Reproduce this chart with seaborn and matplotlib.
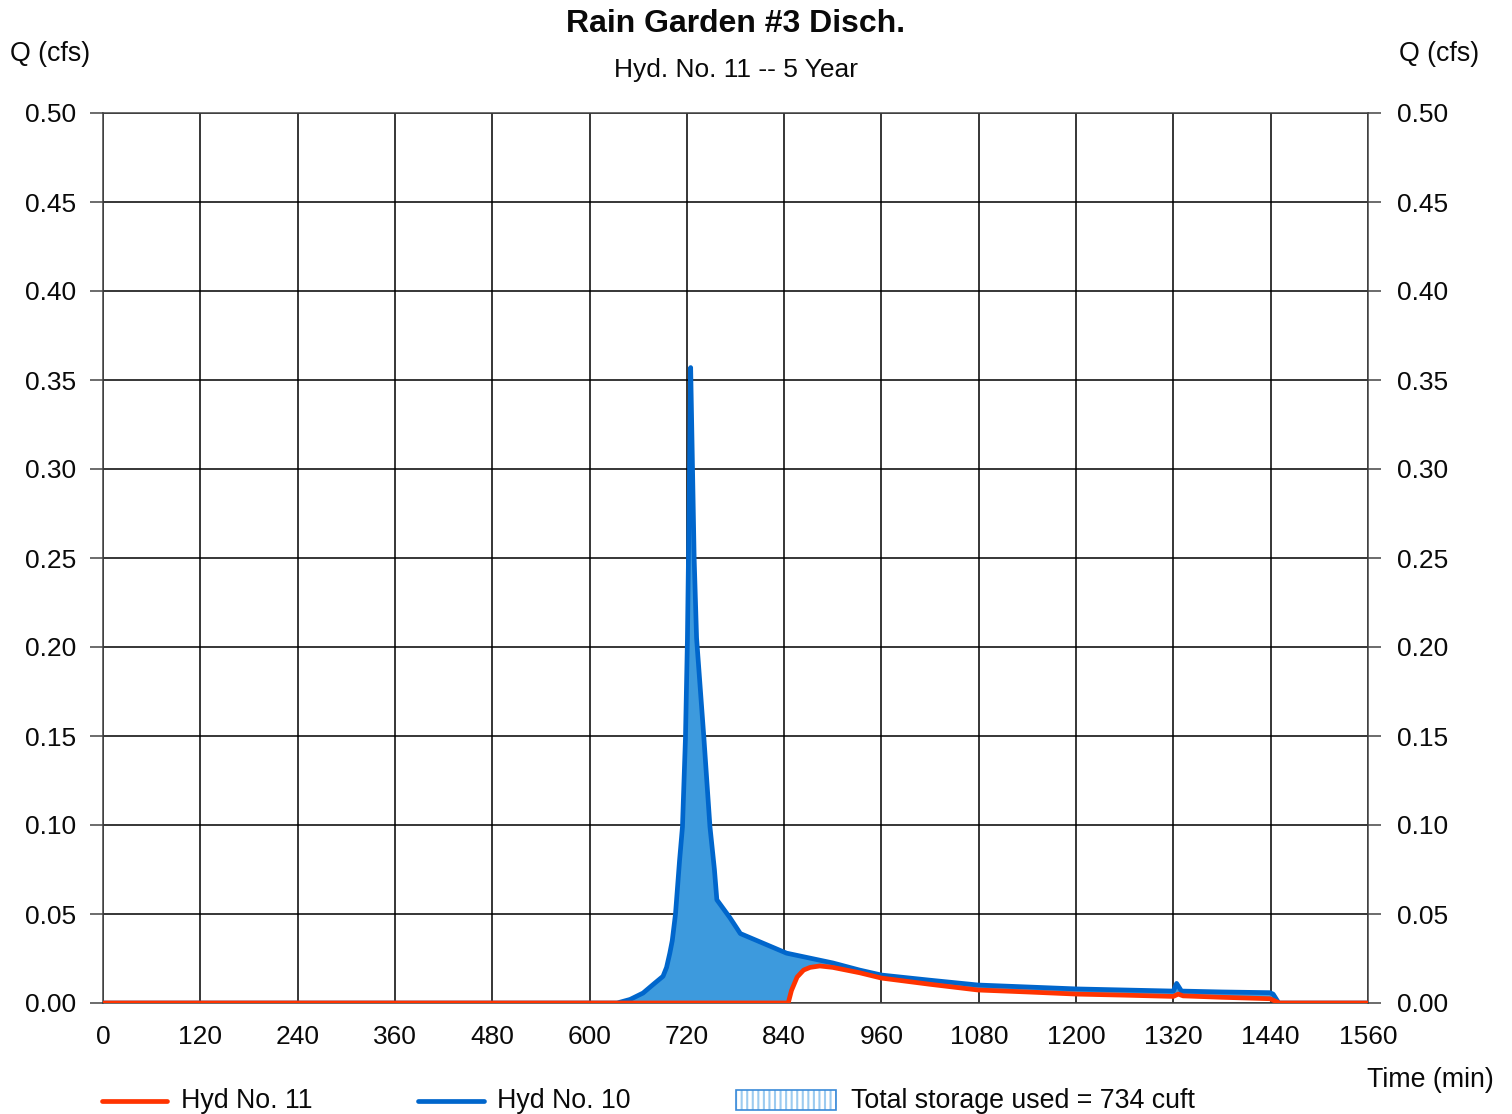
import numpy as np
import pandas as pd
import seaborn as sns
import matplotlib
matplotlib.use("Agg")
import matplotlib.pyplot as plt
from matplotlib.lines import Line2D
from matplotlib.patches import Rectangle

# Inflow hydrograph (Hyd No. 10): time (min), discharge (cfs)
inflow_t = [0, 634, 650, 666, 680, 690.6, 695, 699, 702, 706, 711, 714.6, 718.3,
            720.7, 722, 723.3, 724.7, 727, 729, 732, 741, 748.5, 754, 757,
            773, 786, 843, 900, 933, 960, 1020, 1079, 1140, 1201, 1260, 1320,
            1324, 1330, 1380, 1439, 1443, 1450, 1560]
inflow_q = [0.0, 0.0, 0.002, 0.0056, 0.011, 0.0150, 0.020, 0.028, 0.035, 0.050,
            0.080, 0.099, 0.149, 0.204, 0.250, 0.300, 0.357, 0.300, 0.250,
            0.205, 0.149, 0.099, 0.075, 0.058, 0.048, 0.039, 0.028, 0.0225,
            0.0185, 0.0157, 0.0128, 0.0101, 0.0090, 0.0079, 0.0073, 0.0067,
            0.0110, 0.0067, 0.0062, 0.0058, 0.0050, 0.0, 0.0]

# Outflow hydrograph (Hyd No. 11): time (min), discharge (cfs)
outflow_t = [0, 845, 849, 856, 864, 872, 884, 900, 933, 960, 1020, 1079, 1140,
             1201, 1260, 1320, 1326, 1332, 1380, 1439, 1451, 1560]
outflow_q = [0.0, 0.0, 0.007, 0.0146, 0.0185, 0.0200, 0.0208, 0.0200, 0.0170,
             0.0140, 0.0105, 0.0073, 0.0062, 0.0050, 0.0044, 0.0037, 0.0050,
             0.0040, 0.0032, 0.0024, 0.0, 0.0]

x_ticks = list(range(0, 1561, 120))
y_ticks = [0.00, 0.05, 0.10, 0.15, 0.20, 0.25, 0.30, 0.35, 0.40, 0.45, 0.50]
storage_cuft = 734

inflow = pd.DataFrame({"t": inflow_t, "q": inflow_q})
outflow = pd.DataFrame({"t": outflow_t, "q": outflow_q})

sns.set_theme(style="white")
plt.rcParams["font.family"] = ["Liberation Sans", "DejaVu Sans"]

W, H, DPI = 1512, 1114, 100
fig = plt.figure(figsize=(W / DPI, H / DPI), dpi=DPI)
ax = fig.add_axes([103 / W, 1 - 1003 / H, (1368 - 103) / W, (1003 - 113) / H])

red = "#ff3300"
blue = "#0066cc"
fill = "#3d9add"
ink = "#0a0a0a"
lw = 3.4

# Storage volume: area between inflow and outflow
grid_t = np.union1d(inflow_t, outflow_t)
q_in = np.interp(grid_t, inflow_t, inflow_q)
q_out = np.interp(grid_t, outflow_t, outflow_q)
ax.fill_between(grid_t, q_out, q_in, where=q_in >= q_out, interpolate=True,
                color=fill, linewidth=0, zorder=3)

sns.lineplot(data=inflow, x="t", y="q", ax=ax, color=blue, linewidth=lw,
             zorder=4, sort=False, estimator=None)
sns.lineplot(data=outflow, x="t", y="q", ax=ax, color=red, linewidth=lw,
             zorder=5, sort=False, estimator=None)

ax.set_xlim(0, 1560)
ax.set_ylim(0, 0.5)
ax.set_xticks(x_ticks)
ax.set_yticks(y_ticks)
ax.set_xticklabels([str(v) for v in x_ticks])
ax.set_yticklabels([f"{v:.2f}" for v in y_ticks])
ax.set_xlabel("")
ax.set_ylabel("")

ax.grid(True, color="#000000", linewidth=1.1, zorder=1)
ax.set_axisbelow(True)
for side, sp in ax.spines.items():
    sp.set_color("#444444")
    sp.set_linewidth(1.1)

ax.tick_params(axis="y", left=True, right=True, labelleft=True, labelright=True,
               length=9.4, width=1.1, color="#444444", labelsize=19,
               labelcolor=ink)
ax.tick_params(axis="y", which="major", pad=10)
for lab in ax.get_yticklabels():
    pass
ax.yaxis.set_tick_params(which="major", pad=10)
ax.tick_params(axis="x", length=0, labelsize=19, pad=15.5, labelcolor=ink)
# right-hand labels sit a touch further from the tick
for t in ax.yaxis.get_major_ticks():
    t.label2.set_x(1.0)
    t.set_pad(10)
import matplotlib.transforms as mtransforms
offset = mtransforms.ScaledTranslation(2 / DPI, 0, fig.dpi_scale_trans)
for lab in ax.yaxis.get_ticklabels(which="major"):
    pass
for t in ax.yaxis.get_major_ticks():
    t.label2.set_transform(t.label2.get_transform() + offset)

# Titles and axis captions
fig.text(736 / W, 1 - 24 / H, "Rain Garden #3 Disch.", ha="center", va="center",
         fontsize=23, fontweight="bold", color=ink)
fig.text(736 / W, 1 - 70 / H, "Hyd. No. 11 -- 5 Year", ha="center", va="center",
         fontsize=19, color=ink)
fig.text(10 / W, 1 - 54 / H, "Q (cfs)", ha="left", va="center", fontsize=19.3,
         color=ink)
fig.text(1479 / W, 1 - 54 / H, "Q (cfs)", ha="right", va="center", fontsize=19.3,
         color=ink)
fig.text(1494 / W, 1 - 1080 / H, "Time (min)", ha="right", va="center",
         fontsize=19.3, color=ink)

# Legend row
ly = 1 - 1101 / H
fig.add_artist(Line2D([102 / W, 167 / W], [ly, ly], color=red, linewidth=lw,
                      transform=fig.transFigure))
fig.text(181 / W, ly, "Hyd No. 11", ha="left", va="center", fontsize=19.3,
         color=ink)
fig.add_artist(Line2D([418 / W, 484 / W], [ly, ly], color=blue, linewidth=lw,
                      transform=fig.transFigure))
fig.text(497 / W, ly, "Hyd No. 10", ha="left", va="center", fontsize=19.3,
         color=ink)
plt.rcParams["hatch.color"] = "#9ccbf0"
plt.rcParams["hatch.linewidth"] = 1.5
fig.add_artist(Rectangle((736 / W, 1 - 1110 / H), 100 / W, 20 / H,
                         transform=fig.transFigure, facecolor="white",
                         edgecolor="#9ccbf0", hatch="|||", linewidth=0))
fig.add_artist(Rectangle((736 / W, 1 - 1110 / H), 100 / W, 20 / H,
                         transform=fig.transFigure, facecolor="none",
                         edgecolor="#3a8ad8", linewidth=1.2))
fig.text(851 / W, ly, f"Total storage used = {storage_cuft} cuft", ha="left",
         va="center", fontsize=19.3, color=ink)

fig.savefig("out.png", dpi=DPI)
